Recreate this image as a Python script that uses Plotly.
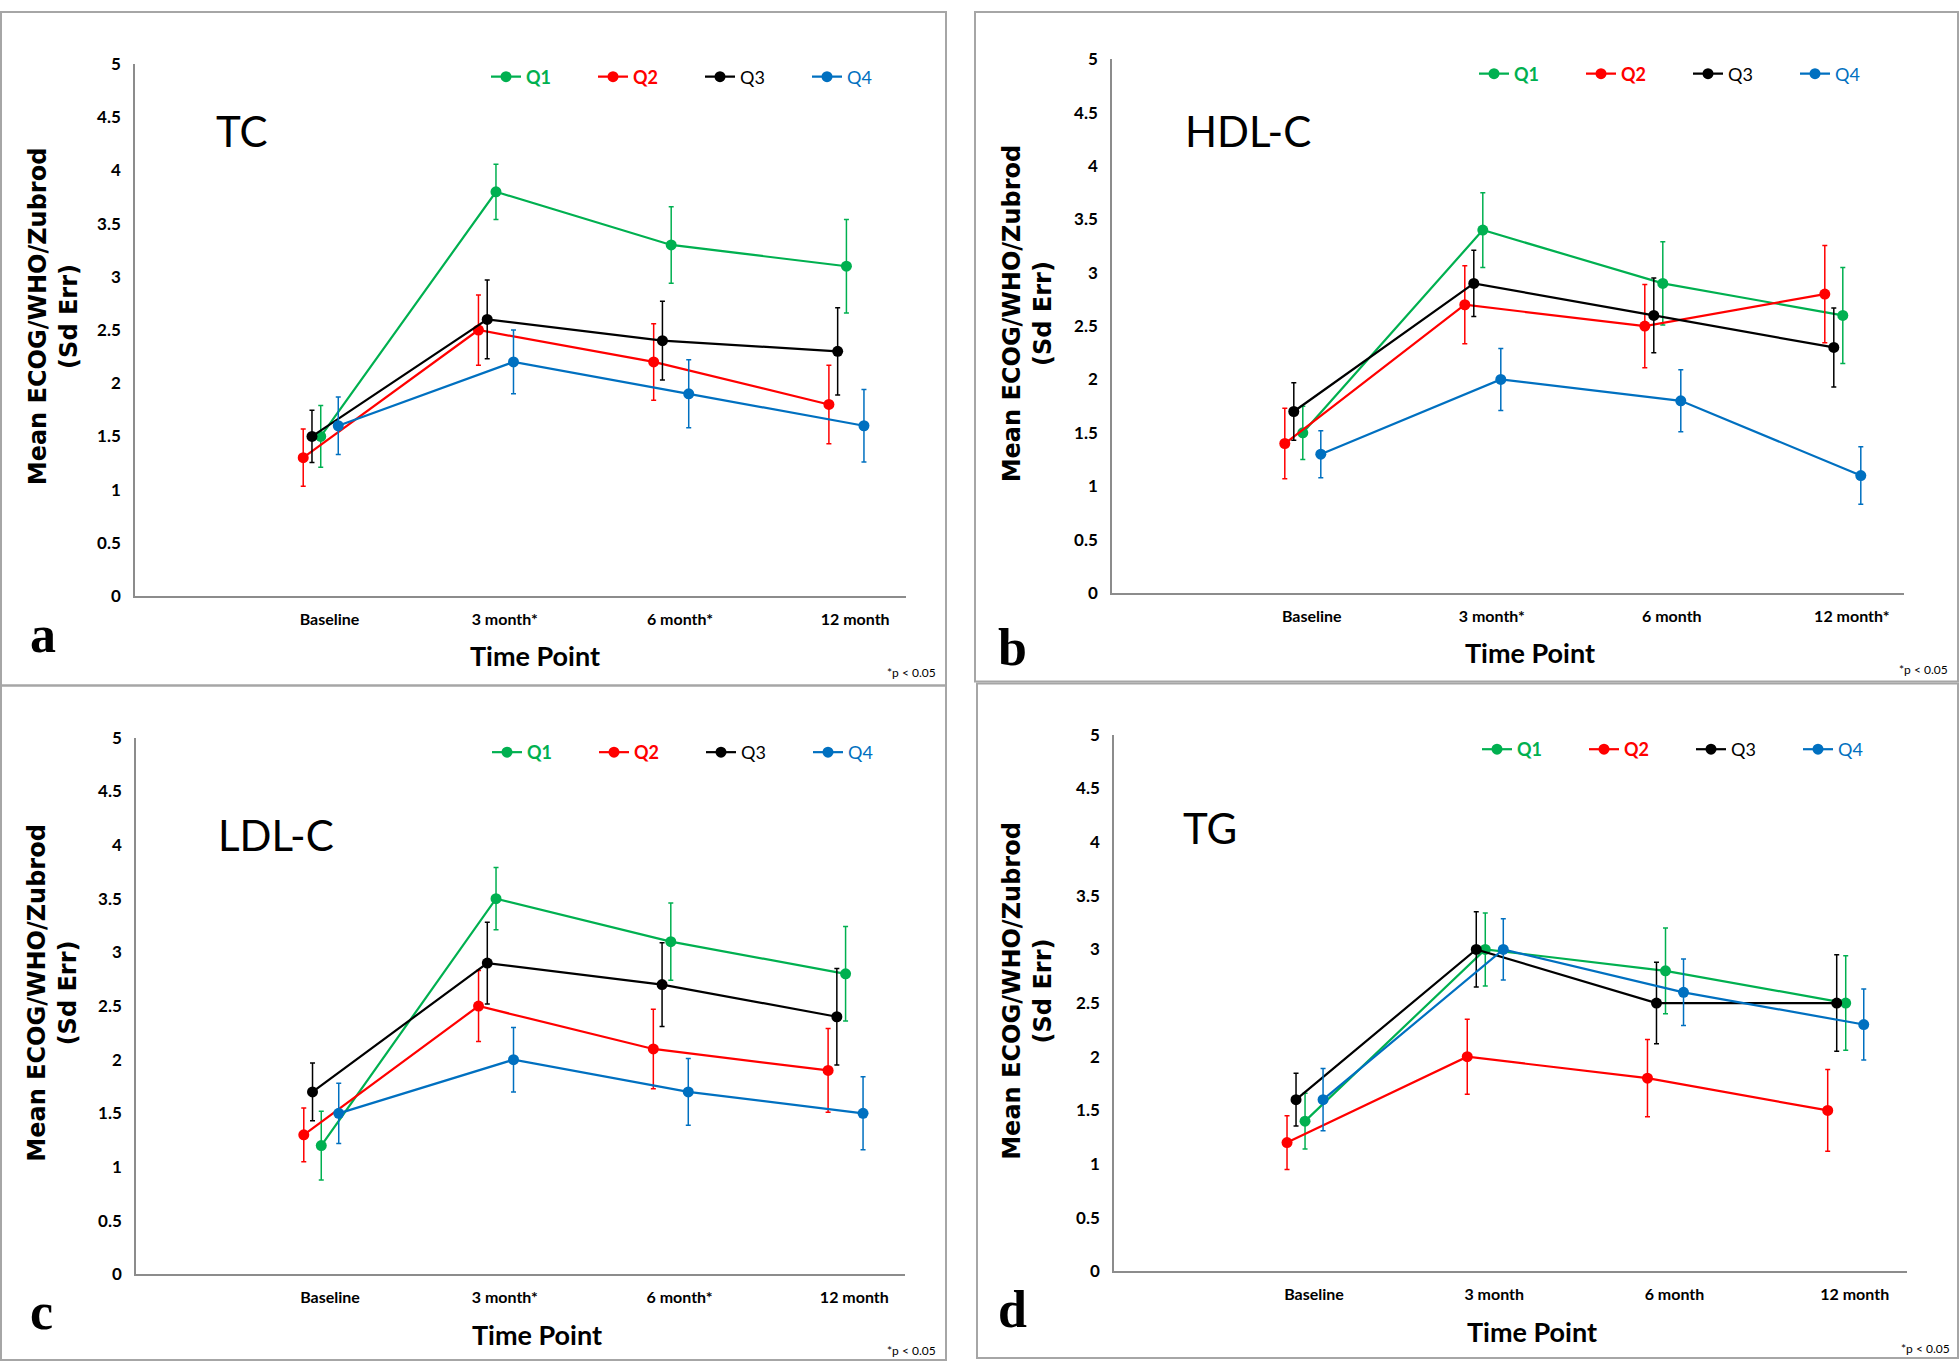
import plotly.graph_objects as go

W, H = 1960, 1371

# ---------------- data ----------------
series_names = ["Q1", "Q2", "Q3", "Q4"]
series_colors = ["#00B050", "#FF0000", "#000000", "#0070C0"]
legend_labels = [
    '<span style="color:#00B050"><b>Q1</b></span>',
    '<span style="color:#FF0000"><b>Q2</b></span>',
    '<span style="color:#000000">Q3</span>',
    '<span style="color:#0070C0">Q4</span>',
]
series_dodge = [0.0, -0.1, -0.05, 0.1]

panel_titles = ["TC", "HDL-C", "LDL-C", "TG"]
panel_letters = ["a", "b", "c", "d"]

cats_tc = ["Baseline", "3 month*", "6 month*", "12 month"]
cats_hdl = ["Baseline", "3 month*", "6 month", "12 month*"]
cats_ldl = ["Baseline", "3 month*", "6 month*", "12 month"]
cats_tg = ["Baseline", "3 month", "6 month", "12 month"]

y_ticks = [0, 0.5, 1, 1.5, 2, 2.5, 3, 3.5, 4, 4.5, 5]

# TC
tc_q1 = [1.5, 3.8, 3.3, 3.1]
tc_q1_err = [0.29, 0.26, 0.36, 0.44]
tc_q2 = [1.3, 2.5, 2.2, 1.8]
tc_q2_err = [0.27, 0.33, 0.36, 0.37]
tc_q3 = [1.5, 2.6, 2.4, 2.3]
tc_q3_err = [0.245, 0.37, 0.37, 0.41]
tc_q4 = [1.6, 2.2, 1.9, 1.6]
tc_q4_err = [0.27, 0.30, 0.32, 0.34]

# HDL-C
hdl_q1 = [1.5, 3.4, 2.9, 2.6]
hdl_q1_err = [0.25, 0.35, 0.39, 0.45]
hdl_q2 = [1.4, 2.7, 2.5, 2.8]
hdl_q2_err = [0.33, 0.365, 0.39, 0.455]
hdl_q3 = [1.7, 2.9, 2.6, 2.3]
hdl_q3_err = [0.27, 0.31, 0.35, 0.37]
hdl_q4 = [1.3, 2.0, 1.8, 1.1]
hdl_q4_err = [0.22, 0.29, 0.29, 0.27]

# LDL-C
ldl_q1 = [1.2, 3.5, 3.1, 2.8]
ldl_q1_err = [0.32, 0.29, 0.36, 0.44]
ldl_q2 = [1.3, 2.5, 2.1, 1.9]
ldl_q2_err = [0.25, 0.33, 0.37, 0.39]
ldl_q3 = [1.7, 2.9, 2.7, 2.4]
ldl_q3_err = [0.27, 0.38, 0.39, 0.45]
ldl_q4 = [1.5, 2.0, 1.7, 1.5]
ldl_q4_err = [0.28, 0.30, 0.31, 0.34]

# TG
tg_q1 = [1.4, 3.0, 2.8, 2.5]
tg_q1_err = [0.26, 0.34, 0.40, 0.44]
tg_q2 = [1.2, 2.0, 1.8, 1.5]
tg_q2_err = [0.25, 0.35, 0.36, 0.38]
tg_q3 = [1.6, 3.0, 2.5, 2.5]
tg_q3_err = [0.245, 0.35, 0.38, 0.45]
tg_q4 = [1.6, 3.0, 2.6, 2.3]
tg_q4_err = [0.29, 0.285, 0.31, 0.33]

panels = [
    dict(cats=cats_tc, vals=[tc_q1, tc_q2, tc_q3, tc_q4],
         errs=[tc_q1_err, tc_q2_err, tc_q3_err, tc_q4_err]),
    dict(cats=cats_hdl, vals=[hdl_q1, hdl_q2, hdl_q3, hdl_q4],
         errs=[hdl_q1_err, hdl_q2_err, hdl_q3_err, hdl_q4_err]),
    dict(cats=cats_ldl, vals=[ldl_q1, ldl_q2, ldl_q3, ldl_q4],
         errs=[ldl_q1_err, ldl_q2_err, ldl_q3_err, ldl_q4_err]),
    dict(cats=cats_tg, vals=[tg_q1, tg_q2, tg_q3, tg_q4],
         errs=[tg_q1_err, tg_q2_err, tg_q3_err, tg_q4_err]),
]

# ---------------- layout geometry (pixels) ----------------
def px(x):
    return x / W


def py(y):
    return 1 - y / H


FONT = "Lato, Carlito, Calibri, sans-serif"
YFONT = "DejaVu Sans, Verdana, sans-serif"
SERIF = "Liberation Serif, Times New Roman, serif"

# plot area boxes: (x_left, x_right, y_of_5, y_of_0)
boxes = [
    (135, 906, 54, 594),
    (1112, 1904, 49, 591),
    (136, 905, 738, 1283),
    (1114, 1907, 735, 1280),
]
# panel frames
frames = [
    (1, 1, 946, 685),
    (975, 1, 1958, 681),
    (1, 685, 946, 1370),
    (977, 683, 1958, 1368),
]
legend_pos = [(486, 67), (1474, 64), (487, 753), (1477, 750)]
title_pos = [(214, 122), (1183, 122), (216, 837), (1181, 830)]
ytitle_pos = [(53, 310), (1027, 307), (53, 997), (1028, 995)]
xtitle_pos = [(535, 655), (1530, 651), (537, 1344), (1532, 1341)]
letter_pos = [(28, 652), (996, 665), (28, 1340), (996, 1337)]
pnote_pos = [(938, 672), (1950, 669), (938, 1360), (1952, 1358)]

fig = go.Figure()
layout = dict(
    width=W, height=H, autosize=False,
    margin=dict(l=0, r=0, t=0, b=0),
    paper_bgcolor="white", plot_bgcolor="white",
    showlegend=True,
)
annotations = []
shapes = []

for i, p in enumerate(panels):
    k = "" if i == 0 else str(i + 1)
    xa, ya = "x" + k, "y" + k
    leg = "legend" + k
    n = len(p["cats"])
    base = list(range(1, n + 1))
    for j, name in enumerate(series_names):
        xs = [b + series_dodge[j] for b in base]
        fig.add_trace(go.Scatter(
            x=xs, y=p["vals"][j], mode="lines+markers",
            name=legend_labels[j],
            line=dict(color=series_colors[j], width=2.2),
            marker=dict(color=series_colors[j], size=11),
            error_y=dict(type="data", array=p["errs"][j], visible=True,
                         color=series_colors[j], thickness=1.5, width=2.5),
            xaxis=xa, yaxis=ya, legend=leg, showlegend=True,
        ))
    xl, xr, y5, y0 = boxes[i]
    layout["xaxis" + k] = dict(
        domain=[px(xl), px(xr)], range=[-0.06, 4.34], anchor=ya,
        tickvals=[b + 0.05 for b in base], ticktext=p["cats"],
        showgrid=False, zeroline=False, showline=True,
        linecolor="#8C8C8C", linewidth=1.5, ticks="",
        tickfont=dict(family=FONT, size=16, color="black", weight="bold"),
        ticklabelstandoff=8, fixedrange=True,
    )
    layout["yaxis" + k] = dict(
        domain=[py(y0), py(y5)], range=[0, 5], anchor=xa,
        tickvals=y_ticks,
        showgrid=False, zeroline=False, showline=True,
        linecolor="#8C8C8C", linewidth=1.5, ticks="",
        tickfont=dict(family=FONT, size=17, color="black", weight="bold"),
        ticklabelstandoff=9, fixedrange=True,
    )
    lx, ly = legend_pos[i]
    layout[leg] = dict(
        orientation="h", x=px(lx), y=py(ly), xanchor="left", yanchor="middle",
        xref="paper", yref="paper",
        font=dict(family=FONT, size=18, color="black"),
        bgcolor="rgba(0,0,0,0)", borderwidth=0,
        entrywidth=62, entrywidthmode="pixels", itemwidth=30,
    )
    tx, ty = title_pos[i]
    annotations.append(dict(text=panel_titles[i], x=px(tx), y=py(ty), xref="paper", yref="paper",
                            xanchor="left", yanchor="middle", showarrow=False,
                            font=dict(family=FONT, size=42, color="black")))
    yx, yy = ytitle_pos[i]
    annotations.append(dict(text="Mean ECOG/WHO/Zubrod<br>(Sd Err)", x=px(yx), y=py(yy),
                            xref="paper", yref="paper", xanchor="center", yanchor="middle",
                            textangle=-90, showarrow=False,
                            font=dict(family=YFONT, size=24, color="black", weight="bold")))
    xx, xy = xtitle_pos[i]
    annotations.append(dict(text="Time Point", x=px(xx), y=py(xy), xref="paper", yref="paper",
                            xanchor="center", yanchor="middle", showarrow=False,
                            font=dict(family=FONT, size=27, color="black", weight="bold")))
    lx2, ly2 = letter_pos[i]
    annotations.append(dict(text=panel_letters[i], x=px(lx2), y=py(ly2), xref="paper", yref="paper",
                            xanchor="left", yanchor="bottom", showarrow=False, yshift=-12,
                            font=dict(family=SERIF, size=52, color="black", weight="bold")))
    nx, ny = pnote_pos[i]
    annotations.append(dict(text="*p < 0.05", x=px(nx), y=py(ny), xref="paper", yref="paper",
                            xanchor="right", yanchor="middle", showarrow=False,
                            font=dict(family=FONT, size=12, color="black")))
    fx0, fy0, fx1, fy1 = frames[i]
    shapes.append(dict(type="rect", xref="paper", yref="paper",
                       x0=px(fx0), x1=px(fx1), y0=py(fy1), y1=py(fy0),
                       line=dict(color="#A6A6A6", width=2), fillcolor="rgba(0,0,0,0)",
                       layer="below"))

layout["annotations"] = annotations
layout["shapes"] = shapes
fig.update_layout(**layout)
fig.write_html("out.html", config={"displayModeBar": False},
               post_script="document.body.style.margin='0';")
